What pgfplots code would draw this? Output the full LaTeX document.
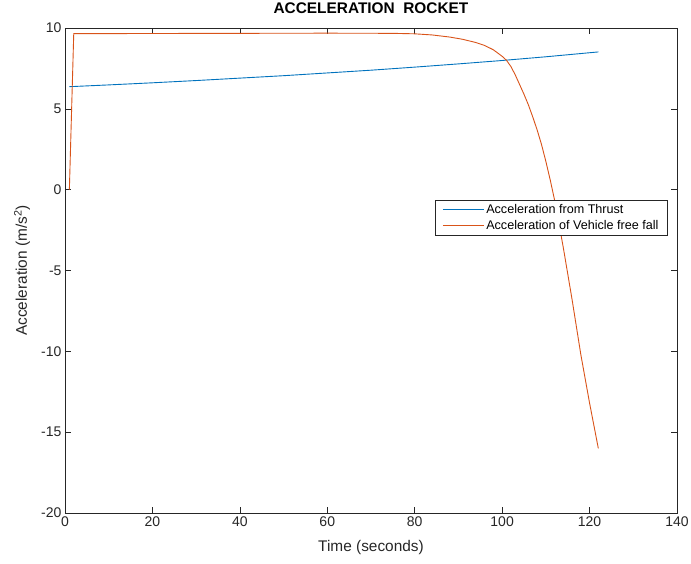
\documentclass[border=0pt]{standalone}
\usepackage{fontspec}
\setmainfont{Liberation Sans}
\usepackage{pgfplots}
\pgfplotsset{compat=1.18}
\definecolor{mblue}{rgb}{0,0.447,0.741}
\definecolor{morange}{rgb}{0.85,0.325,0.098}
\definecolor{axgray}{rgb}{0.15,0.15,0.15}

\begin{document}
\begin{tikzpicture}
\useasboundingbox (-65pt,-50pt) rectangle (626pt,513pt);
\begin{axis}[
  scale only axis, width=612pt, height=485pt,
  xmin=0, xmax=140, ymin=-20, ymax=10,
  xtick={0,20,...,140}, ytick={-20,-15,...,10},
  tick align=inside, major tick length=6pt,
  axis line style={axgray, line width=0.6pt},
  tick style={axgray, line width=0.6pt},
  /pgf/number format/assume math mode=true,
  every tick label/.append style={font=\fontsize{14}{16}\selectfont, text=axgray},
  xlabel={Time (seconds)},
  ylabel={Acceleration (m/s\textsuperscript{2})},
  label style={font=\fontsize{15.4}{18}\selectfont, text=axgray},
  xlabel style={at={(axis description cs:0.5,0)}, anchor=center, yshift=-35pt},
  ylabel style={at={(axis description cs:-0.0703,0.5)}, anchor=center},
  title={ACCELERATION\ \ ROCKET},
  title style={font=\bfseries\fontsize{15.4}{18}\selectfont, at={(axis description cs:0.5,1)}, anchor=center, yshift=14pt},
  legend style={at={(rel axis cs:0.985,0.645)}, anchor=north east,
    draw=axgray, line width=0.5pt, fill=white,
    font=\fontsize{12.6}{15}\selectfont, cells={anchor=west},
    inner xsep=7pt, inner ysep=2pt, row sep=1.5pt},
  legend image code/.code={\draw[#1] (0pt,0pt) -- (41pt,0pt);},
]
% acceleration produced by the engine thrust
\addplot[draw=mblue, line width=0.9pt] coordinates {
  (1,6.37) (10,6.48) (20,6.61) (30,6.75) (40,6.90) (50,7.05) (60,7.22)
  (70,7.39) (80,7.58) (90,7.78) (100,7.99) (110,8.22) (122,8.52)
};
\addlegendentry{Acceleration from Thrust}
% net acceleration of the vehicle
\addplot[draw=morange, line width=0.9pt] coordinates {
  (1,0) (2,9.65) (20,9.66) (40,9.67) (60,9.68) (75,9.67) (80,9.64)
  (84,9.57) (88,9.44) (91,9.30) (94,9.10) (96,8.92) (98,8.65) (100,8.25)
  (101,8.0) (102,7.62) (103,7.10) (104,6.5) (105,5.9) (106,5.25)
  (107,4.5) (108,3.7) (109,2.8) (110,1.75) (111,0.6) (112,-0.65)
  (113,-2.1) (114,-3.6) (115,-5.2) (116,-6.8) (117,-8.5) (118,-10.2)
  (119,-11.7) (120,-13.2) (121,-14.6) (122,-16.0)
};
\addlegendentry{Acceleration of Vehicle free fall}
\end{axis}
\end{tikzpicture}
\end{document}
